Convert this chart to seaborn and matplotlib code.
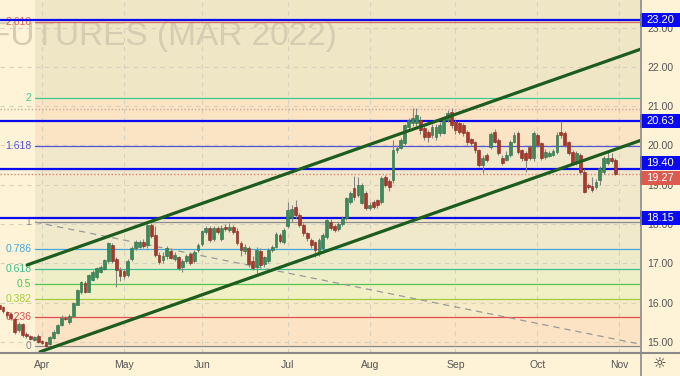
import numpy as np
import pandas as pd
import seaborn as sns
import matplotlib.pyplot as plt
import matplotlib.transforms as mtransforms
from matplotlib.patches import Rectangle
from matplotlib.lines import Line2D

# daily candles, first bar = 17 Mar 2021
opens = [15.94, 15.88, 15.77, 15.72, 15.58, 15.30, 15.45, 15.20, 15.15, 15.06,
         15.14, 15.02, 15.00, 14.95, 15.10, 15.24, 15.43, 15.62, 15.50, 15.66,
         15.95, 16.26, 16.50, 16.28, 16.58, 16.65, 16.78, 16.85, 17.05, 17.48,
         17.10, 16.82, 16.80, 16.70, 17.10, 17.38, 17.42, 17.55, 17.47, 17.97,
         17.72, 17.22, 17.08, 17.18, 17.32, 17.10, 17.15, 16.90, 17.05, 17.25,
         17.05, 17.33, 17.50, 17.80, 17.90, 17.62, 17.90, 17.62, 17.92, 17.85,
         17.93, 17.82, 17.52, 17.32, 17.40, 17.05, 16.90, 17.32, 16.98, 17.05,
         17.35, 17.42, 17.72, 17.55, 17.95, 18.15, 18.43, 18.23, 17.98, 17.77,
         17.60, 17.54, 17.30, 17.40, 17.67, 18.05, 17.95, 17.88, 18.00, 18.15,
         18.56, 18.92, 18.74, 18.54, 18.79, 18.41, 18.56, 18.60, 18.56, 19.20,
         19.10, 19.12, 19.88, 19.94, 20.06, 20.47, 20.57, 20.57, 20.65, 20.45,
         20.34, 20.27, 20.22, 20.32, 20.32, 20.65, 20.85, 20.60, 20.57, 20.52,
         20.34, 20.16, 20.09, 19.88, 19.50, 19.75, 19.95, 20.34, 20.14, 19.68,
         19.63, 19.75, 20.09, 20.32, 19.88, 19.80, 19.96, 19.68, 20.27, 20.06,
         19.70, 19.73, 19.76, 19.83, 20.34, 20.32, 20.09, 19.83, 19.55, 19.76,
         19.33, 19.00, 18.97, 18.94, 19.12, 19.33, 19.55, 19.68, 19.63]
highs = [15.97, 15.92, 15.80, 15.76, 15.62, 15.50, 15.48, 15.25, 15.18, 15.16,
         15.20, 15.05, 15.03, 15.15, 15.30, 15.46, 15.68, 15.66, 15.70, 16.02,
         16.36, 16.55, 16.55, 16.72, 16.82, 16.92, 16.96, 17.12, 17.55, 17.52,
         17.15, 16.90, 16.85, 17.10, 17.45, 17.60, 17.60, 17.62, 18.00, 18.02,
         17.95, 17.30, 17.28, 17.45, 17.38, 17.28, 17.20, 17.10, 17.25, 17.30,
         17.35, 17.52, 17.85, 17.95, 17.95, 17.95, 17.96, 17.98, 18.00, 18.02,
         17.98, 17.90, 17.58, 17.50, 17.45, 17.20, 17.42, 17.38, 17.20, 17.40,
         17.48, 17.80, 17.78, 17.90, 18.56, 18.48, 18.62, 18.28, 18.02, 17.80,
         17.65, 17.58, 17.65, 17.76, 18.14, 18.12, 18.00, 18.05, 18.20, 18.70,
         18.85, 19.22, 19.20, 19.05, 18.85, 18.55, 18.60, 18.65, 19.22, 19.25,
         19.15, 20.15, 20.00, 20.20, 20.55, 20.70, 20.95, 20.95, 20.75, 20.50,
         20.40, 20.55, 20.55, 20.60, 20.75, 20.90, 20.95, 20.65, 20.62, 20.58,
         20.40, 20.20, 20.12, 19.92, 19.75, 19.80, 20.35, 20.42, 20.20, 19.75,
         19.85, 20.15, 20.35, 20.38, 19.92, 19.85, 20.00, 20.36, 20.32, 20.10,
         19.90, 19.86, 19.90, 20.35, 20.62, 20.38, 20.12, 19.88, 19.85, 19.80,
         19.40, 19.05, 19.20, 19.15, 19.48, 19.72, 19.85, 19.80, 19.68]
lows = [15.78, 15.74, 15.62, 15.55, 15.20, 15.25, 15.12, 15.10, 15.05, 15.02,
        14.97, 14.95, 14.88, 14.92, 15.08, 15.20, 15.40, 15.55, 15.46, 15.64,
        15.93, 16.22, 16.25, 16.26, 16.55, 16.60, 16.75, 16.82, 17.00, 17.00,
        16.40, 16.55, 16.60, 16.65, 17.05, 17.35, 17.38, 17.40, 17.40, 17.65,
        17.15, 16.98, 17.00, 17.12, 17.10, 17.05, 16.82, 16.78, 17.00, 16.95,
        17.00, 17.30, 17.45, 17.75, 17.55, 17.58, 17.75, 17.58, 17.83, 17.80,
        17.75, 17.48, 17.20, 17.25, 16.92, 16.82, 16.75, 16.88, 16.92, 17.00,
        17.30, 17.38, 17.52, 17.50, 17.90, 18.05, 18.15, 17.92, 17.70, 17.58,
        17.38, 17.15, 17.20, 17.36, 17.62, 17.85, 17.80, 17.82, 17.95, 18.10,
        18.50, 18.60, 18.70, 18.50, 18.35, 18.35, 18.38, 18.42, 18.50, 18.95,
        18.85, 19.05, 19.80, 19.90, 20.00, 20.40, 20.50, 20.50, 20.30, 20.15,
        20.10, 20.20, 20.15, 20.25, 20.30, 20.60, 20.45, 20.30, 20.30, 20.25,
        20.00, 19.98, 19.82, 19.45, 19.30, 19.58, 19.90, 20.05, 19.75, 19.50,
        19.60, 19.70, 20.05, 19.78, 19.60, 19.33, 19.62, 19.60, 19.95, 19.62,
        19.65, 19.70, 19.72, 19.78, 20.20, 19.95, 19.75, 19.50, 19.50, 19.28,
        18.80, 18.88, 18.82, 18.88, 19.00, 19.28, 19.50, 19.55, 19.25]
closes = [15.83, 15.78, 15.68, 15.60, 15.25, 15.45, 15.18, 15.15, 15.08, 15.12,
          15.00, 14.98, 14.90, 15.12, 15.26, 15.43, 15.60, 15.58, 15.66, 16.00,
          16.32, 16.52, 16.28, 16.70, 16.78, 16.88, 16.90, 17.08, 17.52, 17.05,
          16.82, 16.68, 16.68, 17.06, 17.40, 17.54, 17.55, 17.45, 17.97, 17.70,
          17.22, 17.04, 17.20, 17.40, 17.14, 17.22, 16.88, 17.05, 17.20, 17.02,
          17.30, 17.47, 17.82, 17.90, 17.60, 17.90, 17.80, 17.90, 17.88, 17.93,
          17.80, 17.52, 17.35, 17.42, 16.98, 16.88, 17.35, 16.95, 17.15, 17.35,
          17.42, 17.75, 17.58, 17.85, 18.36, 18.38, 18.23, 17.98, 17.77, 17.65,
          17.47, 17.34, 17.60, 17.72, 18.10, 17.90, 17.85, 18.00, 18.15, 18.66,
          18.79, 18.69, 19.00, 19.00, 18.41, 18.49, 18.43, 18.49, 19.17, 19.00,
          18.94, 19.88, 19.94, 20.14, 20.52, 20.65, 20.70, 20.78, 20.39, 20.22,
          20.22, 20.47, 20.47, 20.52, 20.70, 20.83, 20.52, 20.39, 20.34, 20.32,
          20.09, 20.06, 19.88, 19.50, 19.68, 19.63, 20.28, 20.09, 19.81, 19.55,
          19.75, 20.09, 20.27, 19.83, 19.68, 19.63, 19.68, 20.32, 20.01, 19.68,
          19.83, 19.81, 19.86, 20.27, 20.27, 20.01, 19.81, 19.55, 19.81, 19.33,
          18.82, 18.95, 18.87, 19.07, 19.43, 19.68, 19.68, 19.60, 19.27]

holidays = ["2021-04-02", "2021-05-31", "2021-07-05", "2021-09-06"]
month_names = ["Apr", "May", "Jun", "Jul", "Aug", "Sep", "Oct", "Nov"]

# fibonacci retracement drawn from 18.05 down to 14.90
fib_ratios = [0, 0.236, 0.382, 0.5, 0.618, 0.786, 1, 1.618, 2, 2.618]
fib_labels = ["0", "0.236", "0.382", "0.5", "0.618", "0.786", "1", "1.618", "2", "2.618"]
fib_low, fib_high = 14.90, 18.05
fib_anchor_x = [9.2, 166.6]

# horizontal levels and the last price
levels = [23.20, 20.63, 19.40, 18.15]
last_price = 19.27
high_line = 20.93

# rising channel (bar index, price)
upper_x, upper_y = [7.2, 164.5], [16.96, 22.45]
lower_x, lower_y = [10.5, 164.5], [14.75, 20.13]

# ---------------------------------------------------------------
days = pd.bdate_range("2021-03-17", "2021-11-10")
days = days[~days.isin(pd.to_datetime(holidays))]
pos = np.arange(len(days))
month_start = pos[1:][days.month[1:] != days.month[:-1]][:len(month_names)]

df = pd.DataFrame({"x": pos[:len(closes)], "open": opens, "high": highs,
                   "low": lows, "close": closes})
df["up"] = df["close"] >= df["open"]

sns.set_style("white")
plt.rcParams["font.family"] = ["Liberation Sans", "DejaVu Sans"]

bg = "#fef3d6"
fig = plt.figure(figsize=(6.8, 3.76), dpi=100, facecolor=bg)
ax = fig.add_axes([0, 23 / 376, 640 / 680, 353 / 376], facecolor=bg)
xmax, ymin, ymax = 164.3, 14.72, 23.70

fib_colors = ["#8c8c8c", "#e04e4e", "#a5cd3b", "#52c552", "#3dbe8e",
              "#45a6d8", "#8c8c8c", "#5555d5", "#3cc98f", "#d96a5e"]
zone_colors = ["#fbe3c4", "#f6ebc6", "#f1efc4", "#eeeec7", "#eeebcb",
               "#f0e9cc", "#f1e8cc", "#fbe4c4", "#efe6c6"]
fib_prices = [fib_low + r * (fib_high - fib_low) for r in fib_ratios]
fx = [fib_anchor_x[0], xmax + 5]
ax.fill_between(fx, ymin - 1, fib_prices[0], color="#f6ecd3", lw=0, zorder=0.2)
for i in range(len(fib_prices) - 1):
    ax.fill_between(fx, fib_prices[i], fib_prices[i + 1], color=zone_colors[i], lw=0, zorder=0.2)
ax.fill_between(fx, fib_prices[-1], ymax + 1, color=zone_colors[-1], lw=0, zorder=0.2)

# watermark
ax.text(-10 / 640, 1 - 45 / 353, "FUTURES (MAR 2022)", transform=ax.transAxes,
        fontsize=24, color="#d6ccb1", ha="left", va="baseline", zorder=0.3)

# grid
for m in month_start:
    ax.axvline(m, color="#d8d1bd", lw=0.8, ls=(0, (4, 4)), zorder=0.4)
for p in range(15, 24):
    ax.axhline(p, color="#d8d1bd", lw=0.8, ls=(0, (4, 4)), zorder=0.4)

# fib lines and labels
for p, c, lab in zip(fib_prices, fib_colors, fib_labels):
    ax.plot(fx, [p, p], color=c, lw=0.9, zorder=1)
    ax.text(fib_anchor_x[0] - 0.9, p, lab, color=c, fontsize=7.5,
            ha="right", va="center", zorder=1)
sns.lineplot(x=fib_anchor_x, y=[fib_high, fib_low], color="#9a9a9a", lw=0.9,
             ls=(0, (5, 4)), ax=ax, zorder=1)

ax.axhline(high_line, color="#c9a99c", lw=1.0, ls=(0, (1, 1.5)), zorder=1)
ax.axhline(last_price, color="#e07f70", lw=1.0, ls=(0, (1, 1.5)), zorder=1)
for lv in levels:
    ax.axhline(lv, color="#0a0af0", lw=1.6, zorder=2)

# candles
up_c, dn_c = "#3a8a5a", "#a8382c"
ax.vlines(df["x"], df["low"], df["high"], color="#858585", lw=0.8, zorder=3)
body = (df["close"] - df["open"]).where(lambda s: s.abs() > 0.02, 0.02)
ax.bar(df["x"], body, bottom=df["open"], width=0.72,
       color=np.where(df["up"], up_c, dn_c),
       edgecolor=np.where(df["up"], "#2d6e47", "#84291f"), lw=0.4, zorder=4)

# channel
sns.lineplot(x=upper_x, y=upper_y, color="#1d5c1f", lw=2.3, ax=ax, zorder=5)
sns.lineplot(x=lower_x, y=lower_y, color="#1d5c1f", lw=2.3, ax=ax, zorder=5)

ax.set_xlim(0.23, xmax)
ax.set_ylim(ymin, ymax)
ax.yaxis.tick_right()
ax.set_yticks(range(15, 24))
ax.set_yticklabels([f"{p:.2f}" for p in range(15, 24)])
ax.set_xticks(month_start)
ax.set_xticklabels(month_names)
ax.tick_params(axis="y", length=0, pad=5, labelsize=7.5, labelcolor="#555555")
ax.tick_params(axis="x", length=0, pad=5, labelsize=7.5, labelcolor="#555555")
ax.set_xlabel("")
ax.set_ylabel("")
for s in ax.spines.values():
    s.set_visible(False)

# price labels on the right axis
tr = mtransforms.blended_transform_factory(ax.transAxes, ax.transData)
box_h = 14 / 39.3
labels = [(lv, "#0a0af0") for lv in levels] + [(last_price, "#dc5a4e")]
ys = {lv: lv for lv, _ in labels}
ys[19.40], ys[last_price] = 19.40 + box_h * 0.45, last_price - box_h * 0.25
for lv, c in labels:
    y = ys[lv]
    ax.add_patch(Rectangle((1.0, y - box_h / 2), 40 / 640, box_h, transform=tr,
                           facecolor=c, edgecolor="none", clip_on=False, zorder=20))
    ax.text(1.0 + 20 / 640, y, f"{lv:.2f}", transform=tr, color="white",
            fontsize=8, ha="center", va="center", clip_on=False, zorder=21)

# frame lines of the price / time scales
fig.add_artist(Line2D([641 / 680, 641 / 680], [0, 1], color="#8a8a8a", lw=1.2))
fig.add_artist(Line2D([0, 1], [23 / 376, 23 / 376], color="#8a8a8a", lw=1.5))
fig.text(660 / 680, 1 - 364 / 376, "☼", fontsize=11, color="#333333",
         ha="center", va="center", family="DejaVu Sans")

plt.savefig("out.png", dpi=100, facecolor=bg)
